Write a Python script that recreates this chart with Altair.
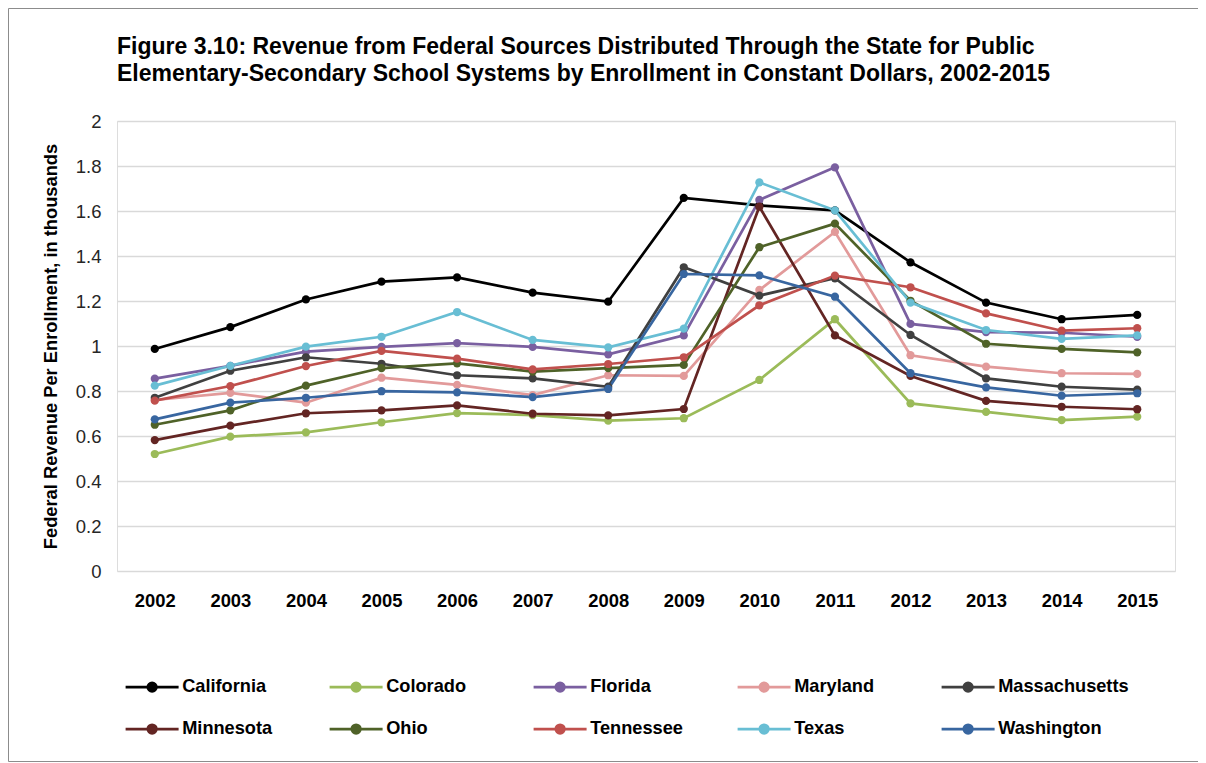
import altair as alt
import pandas as pd

years = [str(y) for y in range(2002, 2016)]
states = ["California", "Colorado", "Florida", "Maryland", "Massachusetts",
          "Minnesota", "Ohio", "Tennessee", "Texas", "Washington"]
colors = ["#000000", "#9BBB59", "#7A5FA0", "#E29A9A", "#404040",
          "#632523", "#4F6228", "#C0504D", "#68BED4", "#3866A0"]

california    = [0.987, 1.084, 1.207, 1.286, 1.305, 1.237, 1.197, 1.658, 1.625, 1.603, 1.372, 1.193, 1.119, 1.138]
colorado      = [0.520, 0.597, 0.616, 0.661, 0.702, 0.693, 0.668, 0.679, 0.849, 1.119, 0.745, 0.707, 0.671, 0.686]
florida       = [0.855, 0.912, 0.975, 0.996, 1.013, 0.996, 0.963, 1.047, 1.649, 1.794, 1.098, 1.062, 1.059, 1.041]
maryland      = [0.760, 0.792, 0.748, 0.859, 0.827, 0.782, 0.870, 0.867, 1.249, 1.507, 0.959, 0.908, 0.879, 0.876]
massachusetts = [0.770, 0.890, 0.950, 0.921, 0.870, 0.856, 0.819, 1.350, 1.224, 1.301, 1.049, 0.856, 0.819, 0.806]
minnesota     = [0.582, 0.646, 0.701, 0.714, 0.736, 0.699, 0.692, 0.720, 1.619, 1.047, 0.867, 0.756, 0.730, 0.719]
ohio          = [0.650, 0.714, 0.824, 0.902, 0.923, 0.886, 0.902, 0.916, 1.439, 1.544, 1.201, 1.010, 0.987, 0.972]
tennessee     = [0.757, 0.822, 0.911, 0.978, 0.944, 0.896, 0.920, 0.950, 1.181, 1.313, 1.261, 1.145, 1.068, 1.079]
texas         = [0.824, 0.912, 0.997, 1.041, 1.151, 1.027, 0.994, 1.077, 1.727, 1.603, 1.193, 1.071, 1.032, 1.047]
washington    = [0.674, 0.748, 0.770, 0.799, 0.794, 0.773, 0.809, 1.320, 1.314, 1.219, 0.879, 0.816, 0.779, 0.790]

series = [california, colorado, florida, maryland, massachusetts,
          minnesota, ohio, tennessee, texas, washington]

y_ticks = [0, 0.2, 0.4, 0.6, 0.8, 1.0, 1.2, 1.4, 1.6, 1.8, 2.0]

rows = []
for st, vals in zip(states, series):
    for yr, v in zip(years, vals):
        rows.append({"Year": yr, "State": st, "Value": v})
df = pd.DataFrame(rows)

FONT = "Liberation Sans"

legend_path = ("M-5.3,0H5.3M-0.85,0A0.85,0.85,0,1,1,0.85,0"
               "A0.85,0.85,0,1,1,-0.85,0Z")

lines = alt.Chart(df).mark_line(
    strokeWidth=2.7,
    point=alt.OverlayMarkDef(filled=True, size=68, opacity=1),
).encode(
    x=alt.X("Year:O", sort=years, title=None,
            scale=alt.Scale(padding=0.5),
            axis=alt.Axis(labelFont=FONT, labelFontSize=18.4, labelFontWeight="bold",
                          labelColor="#000000", labelAngle=0, labelPadding=20,
                          domain=False, ticks=False, tickSize=0, grid=False)),
    y=alt.Y("Value:Q", title="Federal Revenue Per Enrollment, in thousands",
            scale=alt.Scale(domain=[0, 2], nice=False),
            axis=alt.Axis(values=y_ticks, format="~g", labelFont=FONT,
                          labelFontSize=18.5, labelColor="#262626",
                          labelPadding=16, domain=False, ticks=False, tickSize=0,
                          gridColor="#D9D9D9", gridWidth=1.3,
                          titleFont=FONT, titleFontSize=18.3, titleFontWeight="bold",
                          titleColor="#000000", titleX=-57, titleY=225,
                          titleAlign="center", titleAngle=270)),
    color=alt.Color("State:N", sort=states,
                    scale=alt.Scale(domain=states, range=colors),
                    legend=alt.Legend(
                        title=None, orient="none", legendX=26, legendY=557,
                        columns=5, direction="horizontal", gridAlign="all",
                        columnPadding=11, rowPadding=22, padding=0,
                        symbolType=legend_path, symbolSize=100,
                        symbolStrokeWidth=2.8, labelOffset=21,
                        labelFont=FONT, labelFontSize=18.2,
                        labelFontWeight="bold", labelColor="#000000",
                        labelLimit=300, symbolOpacity=1)),
)

frame = alt.Chart(pd.DataFrame({"k": [0]})).mark_rect(
    fill="transparent", stroke="#8C8C8C", strokeWidth=1
).encode(
    x=alt.value(-108.5), x2=alt.value(1100),
    y=alt.value(-112.5), y2=alt.value(640.5),
)

chart = alt.layer(lines, frame).properties(
    width=1058,
    height=450,
    autosize=alt.AutoSizeParams(type="none"),
    padding={"left": 109, "top": 113, "right": 23, "bottom": 191},
    title=alt.Title(
        ["Figure 3.10: Revenue from Federal Sources Distributed Through the State for Public",
         "Elementary-Secondary School Systems by Enrollment in Constant Dollars, 2002-2015"],
        anchor="start", frame="group", font=FONT, fontSize=23,
        fontWeight="bold", color="#000000", lineHeight=27.5,
        baseline="top", offset=-78),
).configure_view(stroke=None).configure(background="white")

chart.save("out.html", embed_options={"renderer": "svg", "actions": False})
